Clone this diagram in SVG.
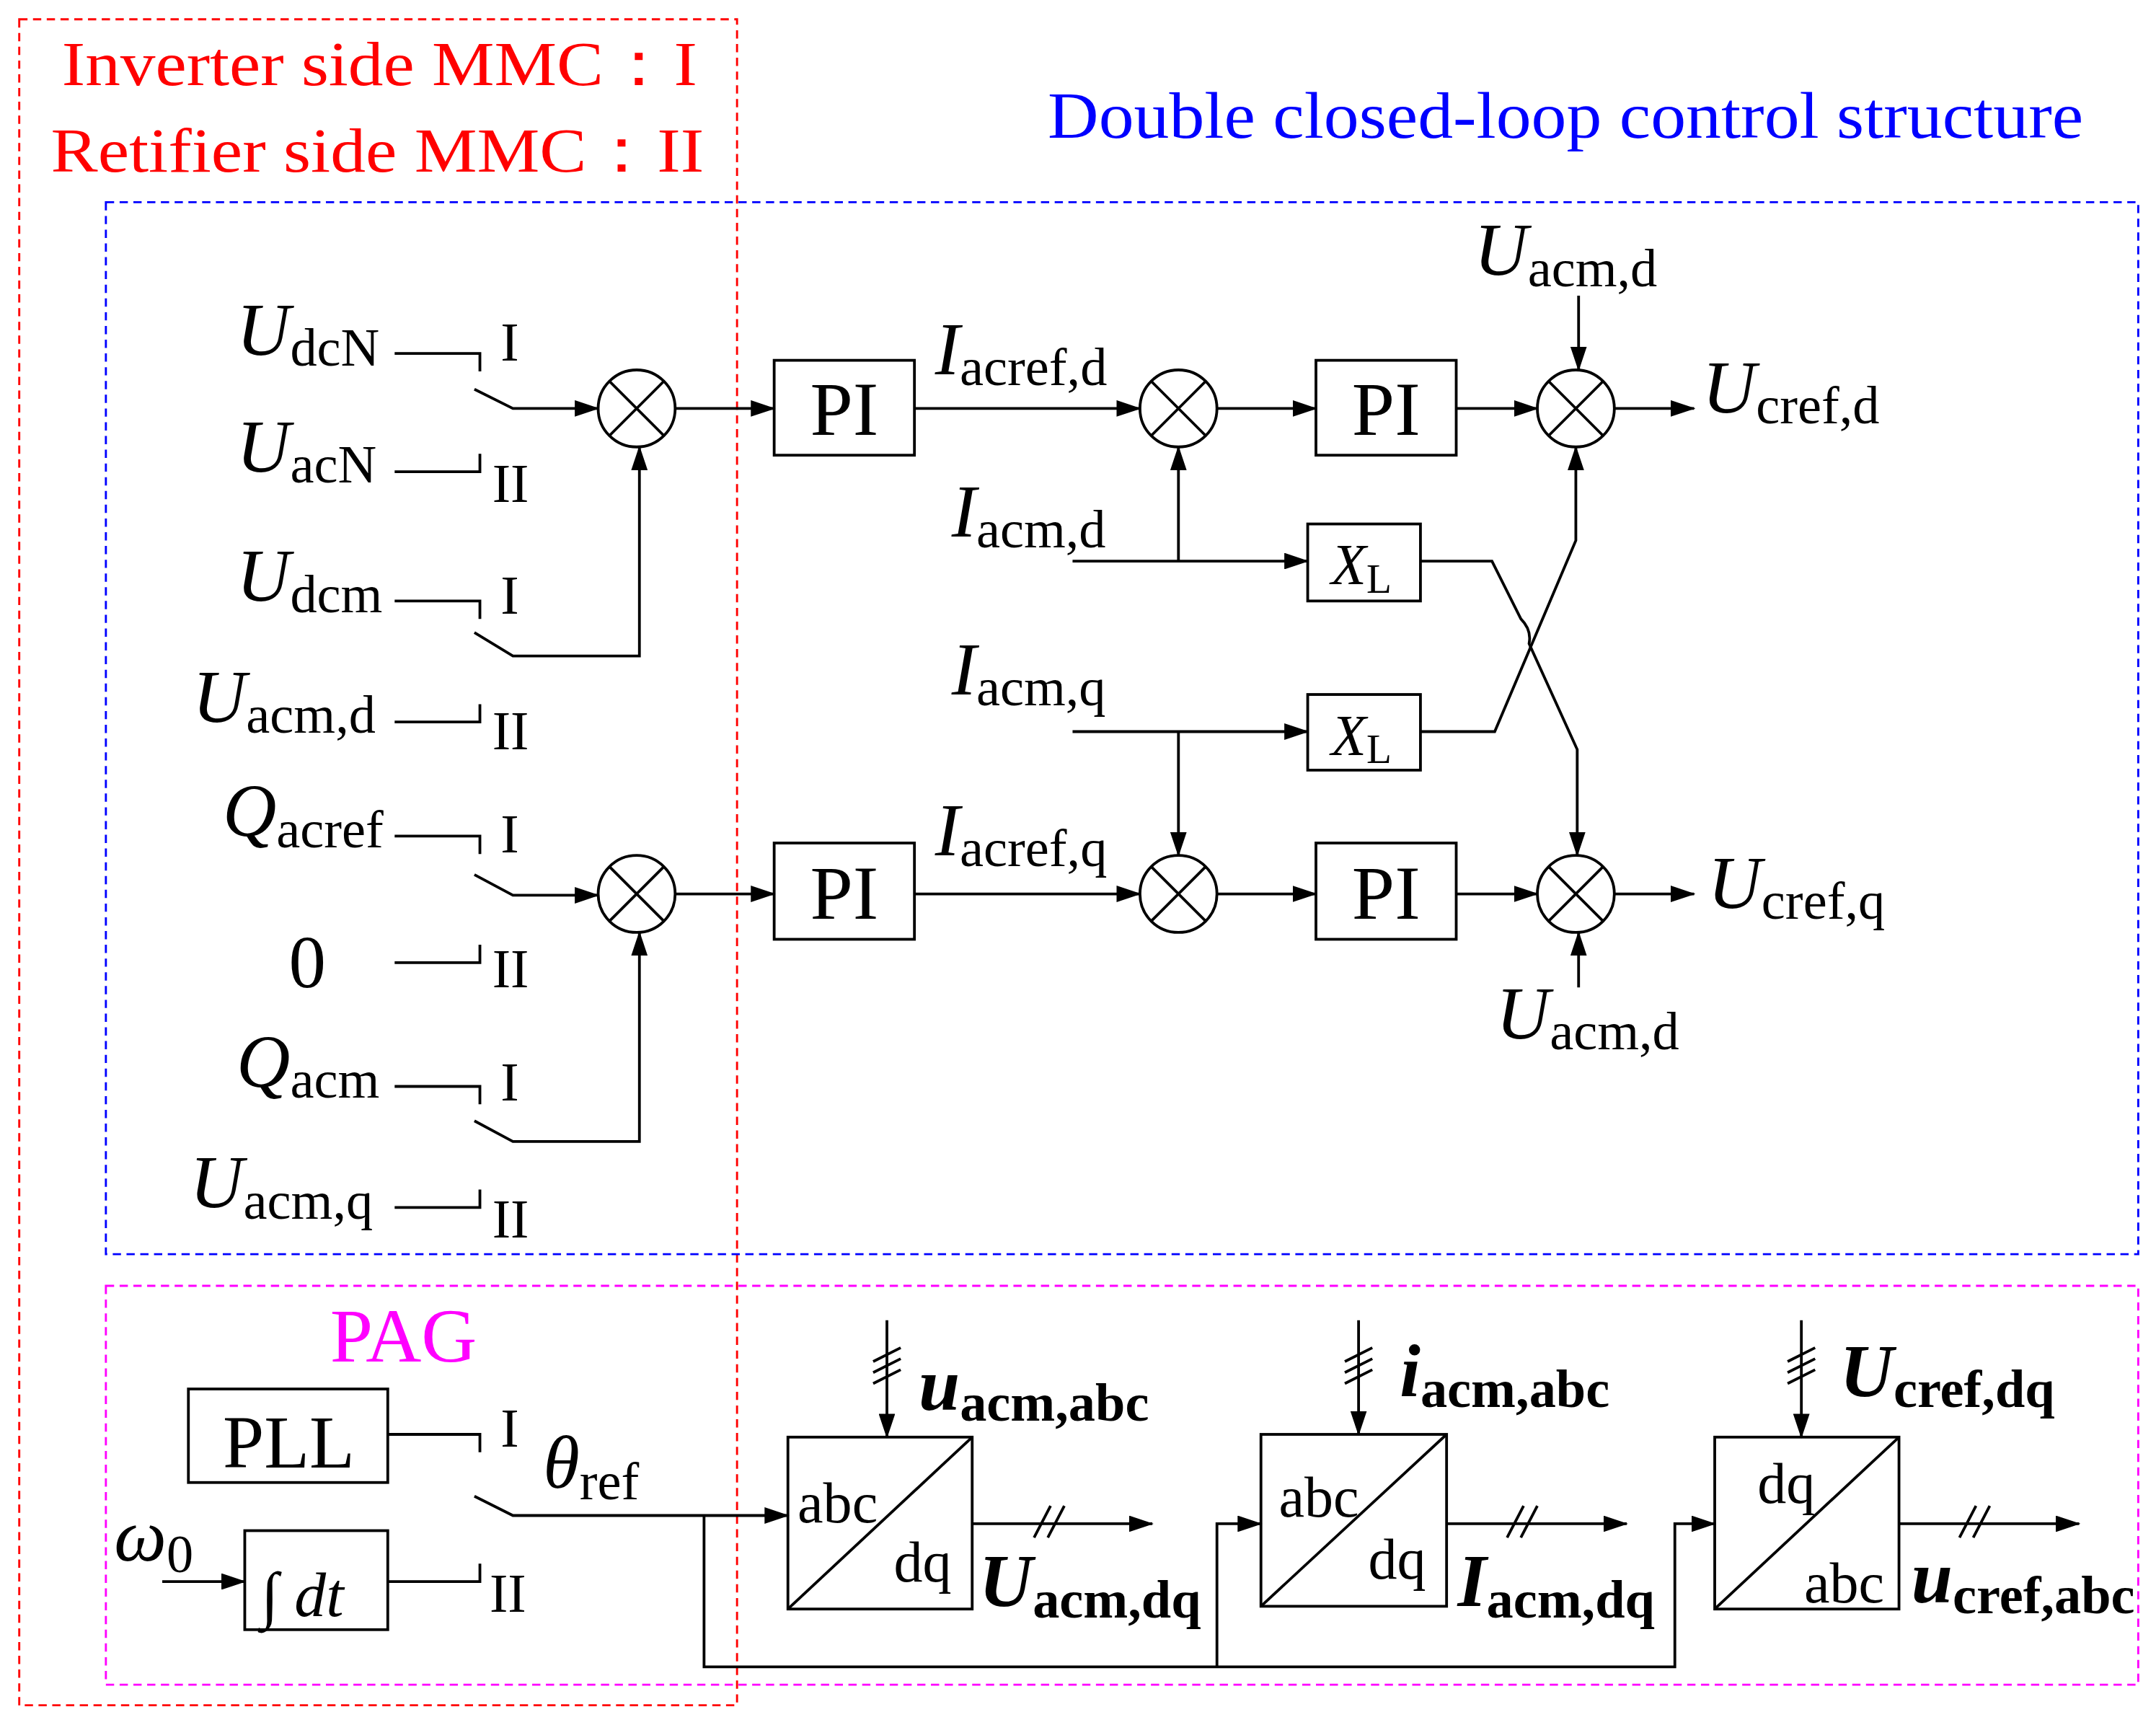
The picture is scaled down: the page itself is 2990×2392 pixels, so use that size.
<svg xmlns="http://www.w3.org/2000/svg" width="2990" height="2392" viewBox="0 0 2990 2392">
<style>
.l{fill:none;stroke:#000;stroke-width:2}
.a{fill:none;stroke:#000;stroke-width:2;marker-end:url(#ar)}
.t{font-family:"Liberation Serif",serif;font-size:54px;fill:#000}
.s{font-size:39px;font-style:normal}
.i{font-style:italic}
.b{font-weight:bold;font-style:italic}
.bx{fill:#fff;stroke:#000;stroke-width:2}
</style>
<defs>
<marker id="ar" markerWidth="18" markerHeight="12" refX="17" refY="6" orient="auto" markerUnits="userSpaceOnUse" viewBox="0 0 18 12"><path d="M0,0L18,6L0,12Z" fill="#000"/></marker>
<g id="sum"><circle r="28" class="bx"/><path class="l" d="M-20,-20L20,20M-20,20L20,-20"/></g>
</defs>
<rect width="2990" height="2392" fill="#fff"/>
<g transform="scale(1.907)">
<g id="frames">
<rect x="14" y="14" width="522" height="1226" fill="none" stroke="#f00" stroke-width="1.5" stroke-dasharray="6,4"/>
<rect x="77" y="147" width="1478" height="765" fill="none" stroke="#00f" stroke-width="1.5" stroke-dasharray="6,4"/>
<rect x="77" y="935" width="1478" height="290" fill="none" stroke="#f0f" stroke-width="1.5" stroke-dasharray="6,4"/>
<text x="45" y="62" class="t" style="fill:#f00;font-size:46px" textLength="462" lengthAdjust="spacingAndGlyphs">Inverter side MMC：I</text>
<text x="37" y="125" class="t" style="fill:#f00;font-size:46px" textLength="475" lengthAdjust="spacingAndGlyphs">Retifier side MMC：II</text>
<text x="762" y="100" class="t" style="fill:#00f;font-size:48px" textLength="753" lengthAdjust="spacingAndGlyphs">Double closed-loop control structure</text>
<text x="240" y="990" class="t" style="fill:#f0f;font-size:56px">PAG</text>
</g>
<g id="inputs">
<text x="172" y="258" class="t"><tspan class="i">U</tspan><tspan class="s" dy="8">dcN</tspan></text>
<text x="172" y="343" class="t"><tspan class="i">U</tspan><tspan class="s" dy="8">acN</tspan></text>
<text x="172" y="437" class="t"><tspan class="i">U</tspan><tspan class="s" dy="8">dcm</tspan></text>
<text x="140" y="525" class="t"><tspan class="i">U</tspan><tspan class="s" dy="8">acm,d</tspan></text>
<text x="162" y="608" class="t"><tspan class="i">Q</tspan><tspan class="s" dy="8">acref</tspan></text>
<text x="210" y="718" class="t">0</text>
<text x="172" y="790" class="t"><tspan class="i">Q</tspan><tspan class="s" dy="8">acm</tspan></text>
<text x="138" y="878" class="t"><tspan class="i">U</tspan><tspan class="s" dy="8">acm,q</tspan></text>
<g class="t" style="font-size:40px">
<text x="364" y="262">I</text><text x="358" y="365">II</text>
<text x="364" y="446">I</text><text x="358" y="545">II</text>
<text x="364" y="620">I</text><text x="358" y="718">II</text>
<text x="364" y="800">I</text><text x="358" y="900">II</text>
<text x="364" y="1052">I</text><text x="356" y="1172">II</text>
</g>
</g>
<g id="sums">
<use href="#sum" x="463" y="297"/><use href="#sum" x="463" y="650"/>
<use href="#sum" x="857" y="297"/><use href="#sum" x="857" y="650"/>
<use href="#sum" x="1146" y="297"/><use href="#sum" x="1146" y="650"/>
</g>
<g id="blocks">
<rect x="563" y="262" width="102" height="69" class="bx"/><text x="614" y="316" class="t" text-anchor="middle" style="font-size:56px">PI</text>
<rect x="957" y="262" width="102" height="69" class="bx"/><text x="1008" y="316" class="t" text-anchor="middle" style="font-size:56px">PI</text>
<rect x="563" y="613" width="102" height="70" class="bx"/><text x="614" y="668" class="t" text-anchor="middle" style="font-size:56px">PI</text>
<rect x="957" y="613" width="102" height="70" class="bx"/><text x="1008" y="668" class="t" text-anchor="middle" style="font-size:56px">PI</text>
<rect x="951" y="381" width="82" height="56" class="bx"/><text x="968" y="425" class="t" style="font-size:42px"><tspan class="i">X</tspan><tspan style="font-size:30px" dy="6">L</tspan></text>
<rect x="951" y="505" width="82" height="55" class="bx"/><text x="968" y="549" class="t" style="font-size:42px"><tspan class="i">X</tspan><tspan style="font-size:30px" dy="6">L</tspan></text>
<rect x="137" y="1010" width="145" height="68" class="bx"/><text x="210" y="1067" class="t" text-anchor="middle" style="font-size:54px">PLL</text>
<rect x="178" y="1113" width="104" height="72" class="bx"/><text x="190" y="1175" class="t" style="font-size:46px">∫ <tspan class="i">dt</tspan></text>
<rect x="573" y="1045" width="134" height="125" class="bx"/><path class="l" d="M573,1170L707,1045"/>
<text x="580" y="1107" class="t" style="font-size:42px">abc</text><text x="650" y="1150" class="t" style="font-size:42px">dq</text>
<rect x="917" y="1043" width="135" height="125" class="bx"/><path class="l" d="M917,1168L1052,1043"/>
<text x="930" y="1103" class="t" style="font-size:42px">abc</text><text x="995" y="1148" class="t" style="font-size:42px">dq</text>
<rect x="1247" y="1045" width="134" height="125" class="bx"/><path class="l" d="M1247,1170L1381,1045"/>
<text x="1278" y="1093" class="t" style="font-size:42px">dq</text><text x="1312" y="1165" class="t" style="font-size:42px">abc</text>
</g>
<g id="labels">
<text x="680" y="272" class="t"><tspan class="i">I</tspan><tspan class="s" dy="8">acref,d</tspan></text>
<text x="680" y="622" class="t"><tspan class="i">I</tspan><tspan class="s" dy="8">acref,q</tspan></text>
<text x="692" y="390" class="t"><tspan class="i">I</tspan><tspan class="s" dy="8">acm,d</tspan></text>
<text x="692" y="505" class="t"><tspan class="i">I</tspan><tspan class="s" dy="8">acm,q</tspan></text>
<text x="1072" y="200" class="t"><tspan class="i">U</tspan><tspan class="s" dy="8">acm,d</tspan></text>
<text x="1088" y="755" class="t"><tspan class="i">U</tspan><tspan class="s" dy="8">acm,d</tspan></text>
<text x="1238" y="300" class="t"><tspan class="i">U</tspan><tspan class="s" dy="8">cref,d</tspan></text>
<text x="1242" y="660" class="t"><tspan class="i">U</tspan><tspan class="s" dy="8">cref,q</tspan></text>
<text x="83" y="1135" class="t"><tspan class="i">ω</tspan><tspan class="s" dy="8">0</tspan></text>
<text x="395" y="1082" class="t"><tspan class="i">θ</tspan><tspan class="s" dy="8">ref</tspan></text>
<text x="668" y="1025" class="t"><tspan class="b">u</tspan><tspan class="s" style="font-weight:bold" dy="8">acm,abc</tspan></text>
<text x="1018" y="1015" class="t"><tspan class="b">i</tspan><tspan class="s" style="font-weight:bold" dy="8">acm,abc</tspan></text>
<text x="1338" y="1015" class="t"><tspan class="b">U</tspan><tspan class="s" style="font-weight:bold" dy="8">cref,dq</tspan></text>
<text x="712" y="1168" class="t"><tspan class="b">U</tspan><tspan class="s" style="font-weight:bold" dy="8">acm,dq</tspan></text>
<text x="1060" y="1168" class="t"><tspan class="b">I</tspan><tspan class="s" style="font-weight:bold" dy="8">acm,dq</tspan></text>
<text x="1390" y="1165" class="t"><tspan class="b">u</tspan><tspan class="s" style="font-weight:bold" dy="8">cref,abc</tspan></text>
</g>
<g id="connectors">
<path class="l" d="M287,257H349V270M287,343H349V330M287,437H349V450M287,525H349V512M287,608H349V621M287,700H349V687M287,790H349V803M287,878H349V865M282,1043H349V1056M282,1150H349V1137"/>
<path class="a" d="M345,283L373,297H435"/>
<path class="a" d="M345,460L373,477H465V325"/>
<path class="a" d="M345,636L373,651H435"/>
<path class="a" d="M345,815L373,830H465V678"/>
<path class="a" d="M491,297H563"/><path class="a" d="M491,650H563"/>
<path class="a" d="M665,297H829"/><path class="a" d="M665,650H829"/>
<path class="a" d="M885,297H957"/><path class="a" d="M885,650H957"/>
<path class="a" d="M1059,297H1118"/><path class="a" d="M1059,650H1118"/>
<path class="a" d="M1174,297H1232"/><path class="a" d="M1174,650H1232"/>
<path class="a" d="M1148,215V269"/><path class="a" d="M1148,718V678"/>
<path class="a" d="M780,408H951"/><path class="a" d="M857,408V325"/>
<path class="a" d="M780,532H951"/><path class="a" d="M857,532V622"/>
<path class="a" d="M1033,408H1085L1106,450Q1114,458 1112,468L1147,545V622"/>
<path class="a" d="M1033,532H1087L1146,393V325"/>
<path class="a" d="M118,1150H178"/>
<path class="a" d="M345,1088L373,1102H573"/>
<path class="a" d="M512,1102V1212H1218V1108H1247"/>
<path class="a" d="M885,1212V1108H917"/>
<path class="a" d="M645,960V1045"/><path class="a" d="M988,960V1043"/><path class="a" d="M1310,960V1045"/>
<path class="l" d="M635,990L655,980M635,998L655,988M635,1006L655,996M978,990L998,980M978,998L998,988M978,1006L998,996M1300,990L1320,980M1300,998L1320,988M1300,1006L1320,996"/>
<path class="a" d="M707,1108H838"/><path class="a" d="M1052,1108H1183"/><path class="a" d="M1381,1108H1512"/>
<path class="l" d="M752,1118L764,1095M762,1118L774,1095M1096,1118L1108,1095M1106,1118L1118,1095M1425,1118L1437,1095M1435,1118L1447,1095"/>
</g>
</g>
</svg>
